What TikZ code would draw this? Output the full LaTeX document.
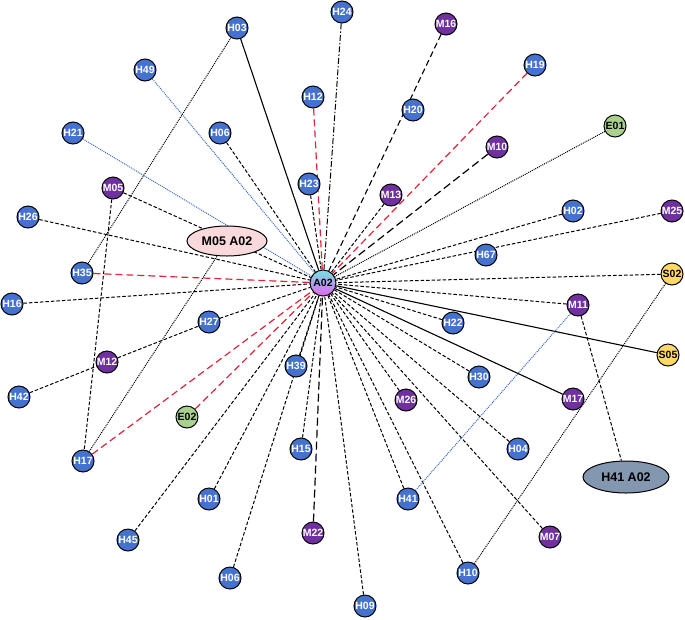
\documentclass[tikz,border=0pt]{standalone}
\usepackage{fontspec}
\setmainfont{Liberation Sans}
\usetikzlibrary{shapes.geometric}
\pgfdeclarelayer{bg}
\pgfsetlayers{bg,main}
\definecolor{hblue}{RGB}{68,114,206}
\definecolor{mpurple}{RGB}{112,48,160}
\definecolor{egreen}{RGB}{169,209,142}
\definecolor{syellow}{RGB}{255,217,102}
\definecolor{pinkfill}{RGB}{249,217,219}
\definecolor{grayblue}{RGB}{132,151,176}
\definecolor{redl}{RGB}{222,36,56}
\definecolor{bluel}{RGB}{60,104,200}
\definecolor{topcyan}{RGB}{115,228,225}
\definecolor{botmag}{RGB}{232,98,246}
\begin{document}
\begin{tikzpicture}[x=1pt,y=-1pt,
  nd/.style={circle,draw=black,line width=1pt,minimum size=22pt,inner sep=0pt,font=\bfseries\fontsize{10.5}{11}\selectfont},
  hn/.style={nd,fill=hblue,text=white},
  mn/.style={nd,fill=mpurple,text=white},
  en/.style={nd,fill=egreen,text=black},
  sn/.style={nd,fill=syellow,text=black},
  ctr/.style={nd,minimum size=26pt,top color=topcyan,bottom color=botmag,text=black},
  el/.style={ellipse,draw=black,line width=1pt,inner sep=0pt,font=\bfseries\fontsize{12.5}{14}\selectfont},
  dsh/.style={draw=black,line width=1pt,dash pattern=on 3.5pt off 2pt},
  ldsh/.style={draw=black,line width=1.2pt,dash pattern=on 8pt off 4pt},
  mdsh/.style={draw=black,line width=1.1pt,dash pattern=on 6pt off 3.5pt},
  rdsh/.style={draw=redl,line width=1.2pt,dash pattern=on 7pt off 4pt},
  dtt/.style={draw=black,line width=1pt,dash pattern=on 1pt off 1pt},
  bdt/.style={draw=bluel,line width=1pt,dash pattern=on 1pt off 1pt},
  dshdt/.style={draw=black,line width=1pt,dash pattern=on 6pt off 2pt on 1.5pt off 2pt},
  sld/.style={draw=black,line width=1.1pt}
]
\useasboundingbox (0,0) rectangle (685,619);
% nodes
\node[ctr] (A02) at (323,283) {A02};
\node[hn] (H03) at (237,28) {H03};
\node[hn] (H24) at (342,12) {H24};
\node[mn] (M16) at (446,24) {M16};
\node[hn] (H49) at (145,70) {H49};
\node[hn] (H19) at (535,65) {H19};
\node[hn] (H12) at (313,97) {H12};
\node[hn] (H20) at (413,110) {H20};
\node[hn] (H21) at (73,133) {H21};
\node[hn] (H06a) at (220,133) {H06};
\node[en] (E01) at (615,126) {E01};
\node[mn] (M10) at (497,147) {M10};
\node[hn] (H23) at (309,184) {H23};
\node[mn] (M13) at (391,195) {M13};
\node[mn] (M05) at (113,188) {M05};
\node[hn] (H26) at (28,217) {H26};
\node[el,fill=pinkfill,minimum width=80pt,minimum height=30pt] (EL1) at (227,241) {M05 A02};
\node[hn] (H02) at (573,211) {H02};
\node[mn] (M25) at (672,211) {M25};
\node[hn] (H67) at (486,255) {H67};
\node[hn] (H35) at (82,273) {H35};
\node[sn] (S02) at (672,274) {S02};
\node[hn] (H16) at (12,304) {H16};
\node[mn] (M11) at (578,305) {M11};
\node[hn] (H27) at (209,322) {H27};
\node[hn] (H22) at (453,323) {H22};
\node[sn] (S05) at (668,355) {S05};
\node[mn] (M12) at (107,362) {M12};
\node[hn] (H39) at (296,366) {H39};
\node[hn] (H30) at (479,377) {H30};
\node[mn] (M26) at (406,400) {M26};
\node[mn] (M17) at (573,399) {M17};
\node[hn] (H42) at (19,397) {H42};
\node[en] (E02) at (187,417) {E02};
\node[hn] (H04) at (518,449) {H04};
\node[hn] (H15) at (301,449) {H15};
\node[el,fill=grayblue,minimum width=86pt,minimum height=32pt] (EL2) at (626,477) {H41 A02};
\node[hn] (H17) at (83,461) {H17};
\node[hn] (H41) at (408,499) {H41};
\node[hn] (H01) at (209,499) {H01};
\node[mn] (M07) at (550,537) {M07};
\node[hn] (H45) at (128,540) {H45};
\node[mn] (M22) at (313,533) {M22};
\node[hn] (H10) at (468,573) {H10};
\node[hn] (H06b) at (230,578) {H06};
\node[hn] (H09) at (365,606) {H09};
% edges
\begin{pgfonlayer}{bg}
\draw[sld] (H03) -- (A02);
\draw[dshdt] (H24) -- (A02);
\draw[mdsh] (M16) -- (A02);
\draw[rdsh] (H12) -- (A02);
\draw[dsh] (H23) -- (A02);
\draw[rdsh] (H19) -- (A02);
\draw[ldsh] (M10) -- (A02);
\draw[dtt] (E01) -- (A02);
\draw[dsh] (M13) -- (A02);
\draw[dsh] (H06a) -- (A02);
\draw[bdt] (H49) -- (A02);
\draw[bdt] (H21) -- (A02);
\draw[dsh] (M05) -- (A02);
\draw[dsh] (H26) -- (A02);
\draw[rdsh] (H35) -- (A02);
\draw[dsh] (H16) -- (A02);
\draw[dsh] (H42) -- (M12);
\draw[dsh] (M12) -- (H27);
\draw[dsh] (H27) -- (A02);
\draw[rdsh] (H17) -- (A02);
\draw[rdsh] (E02) -- (A02);
\draw[dsh] (H45) -- (A02);
\draw[dsh] (H01) -- (A02);
\draw[dsh] (H06b) -- (A02);
\draw[dsh] (H39) -- (A02);
\draw[dsh] (H15) -- (A02);
\draw[ldsh] (M22) -- (A02);
\draw[dsh] (H09) -- (A02);
\draw[dsh] (M26) -- (A02);
\draw[dsh] (H41) -- (A02);
\draw[dsh] (H10) -- (A02);
\draw[dsh] (H04) -- (A02);
\draw[dsh] (M07) -- (A02);
\draw[dsh] (H30) -- (A02);
\draw[sld] (M17) -- (A02);
\draw[dsh] (H22) -- (A02);
\draw[sld] (S05) -- (A02);
\draw[dsh] (M11) -- (A02);
\draw[dsh] (S02) -- (A02);
\draw[dsh] (M25) -- (A02);
\draw[dsh] (H02) -- (A02);
\draw[dtt] (H35) -- (H03);
\draw[dtt] (H17) -- (EL1);
\draw[dsh] (M05) -- (H17);
\draw[dsh] (M11) -- (EL2);
\draw[bdt] (H41) -- (M11);
\draw[dtt] (S02) -- (H10);
\end{pgfonlayer}
\end{tikzpicture}
\end{document}
